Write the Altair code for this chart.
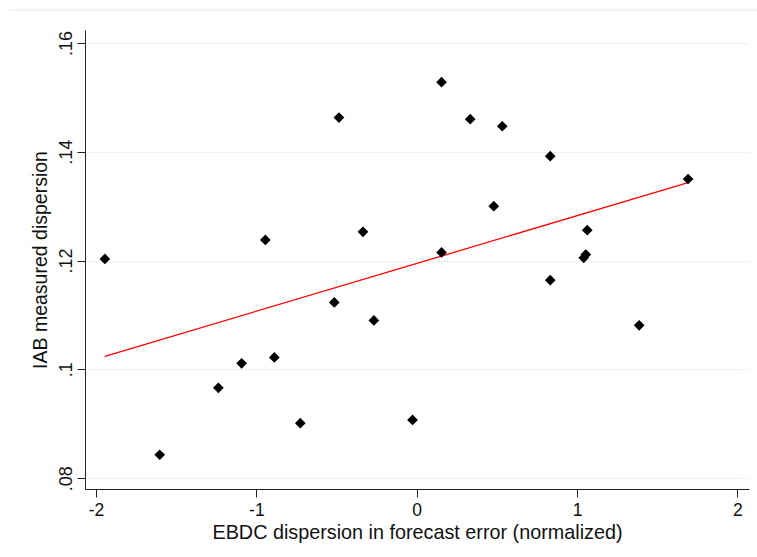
import altair as alt
import pandas as pd

# EBDC dispersion in forecast error (normalized)
ebdc = [-1.945, -1.603, -1.237, -1.092, -0.944, -0.888, -0.726, -0.514,
        -0.485, -0.335, -0.267, -0.026, 0.155, 0.155, 0.334, 0.481,
        0.534, 0.833, 0.833, 1.042, 1.055, 1.064, 1.388, 1.693]
# IAB measured dispersion
iab = [0.1203, 0.0843, 0.0966, 0.1011, 0.1238, 0.1022, 0.0901, 0.1123,
       0.1463, 0.1253, 0.1090, 0.0907, 0.1528, 0.1215, 0.1460, 0.1300,
       0.1447, 0.1392, 0.1164, 0.1205, 0.1211, 0.1256, 0.1081, 0.1350]

x_ticks = [-2, -1, 0, 1, 2]
y_ticks = [0.08, 0.10, 0.12, 0.14, 0.16]

df = pd.DataFrame({"x": ebdc, "y": iab})

FONT = "Liberation Sans"

xscale = alt.Scale(domain=[-2.069, 2.073], nice=False, zero=False)
yscale = alt.Scale(domain=[0.078, 0.1624], nice=False, zero=False)

xaxis = alt.Axis(
    values=x_ticks, title="EBDC dispersion in forecast error (normalized)",
    labelExpr="'' + datum.value",
    grid=False, tickSize=8, labelPadding=18.5, labelBaseline="alphabetic",
    labelFontSize=17.5, titleFontSize=19.8, labelFont=FONT, titleFont=FONT,
    labelColor="#111", titleColor="#111", titleFontWeight="normal",
    domainColor="#222", tickColor="#222", domainWidth=1, tickWidth=1,
    titleX=332, titleY=49, titleBaseline="alphabetic", titleAlign="center",
    labelFlush=False,
)
yaxis = alt.Axis(
    values=y_ticks, title="IAB measured dispersion",
    labelExpr="substring(format(datum.value, '.2~f'), 1)",
    grid=True, gridColor="#eaf2f3", gridWidth=1,
    tickSize=8, labelPadding=6, labelAngle=270, labelAlign="center",
    labelBaseline="alphabetic",
    labelFontSize=18, titleFontSize=19.5, labelFont=FONT, titleFont=FONT,
    labelColor="#111", titleColor="#111", titleFontWeight="normal",
    domainColor="#222", tickColor="#222", domainWidth=1, tickWidth=1,
    titleAngle=270, titleX=-38.5, titleY=229.5, titleBaseline="alphabetic",
    titleAlign="center", labelFlush=False,
)

base = alt.Chart(df)

points = base.mark_point(shape="diamond", filled=True, size=115, color="black", opacity=1).encode(
    x=alt.X("x:Q", scale=xscale, axis=xaxis),
    y=alt.Y("y:Q", scale=yscale, axis=yaxis),
)

fit = base.transform_regression("x", "y").mark_line(color="#ff0000", strokeWidth=1.3).encode(
    x=alt.X("x:Q", scale=xscale),
    y=alt.Y("y:Q", scale=yscale),
)

topline = alt.Chart(pd.DataFrame({"a": [0]})).mark_rule(color="#e9eff0", strokeWidth=1.5).encode(
    x=alt.value(9 - 85), x2=alt.value(757 - 85), y=alt.value(-20)
)

chart = alt.layer(topline, fit, points).properties(
    width=664, height=459,
    autosize=alt.AutoSizeParams(type="none"),
    padding={"left": 85, "top": 30, "right": 8, "bottom": 68},
    background="white",
).configure_view(stroke=None)

chart.save("out.html", embed_options={"renderer": "svg", "actions": False})
